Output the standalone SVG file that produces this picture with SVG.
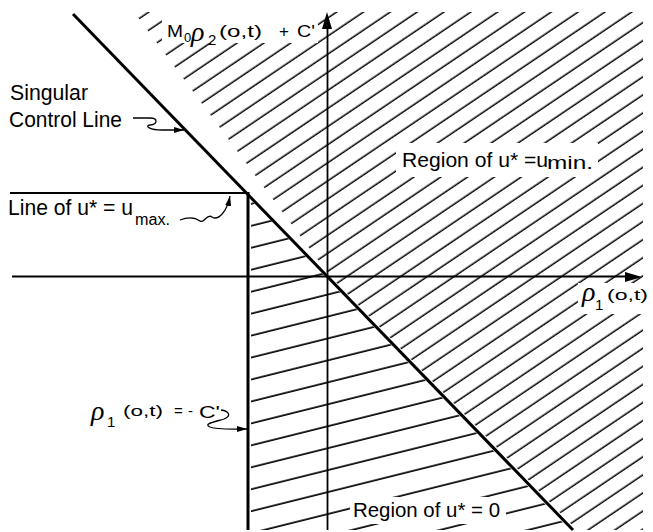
<svg xmlns="http://www.w3.org/2000/svg" width="653" height="532" viewBox="0 0 653 532">
<style>
.t{font-family:"Liberation Sans",Arial,sans-serif;fill:#000}
.g{font-family:"Liberation Serif","Times New Roman",serif;font-style:italic;fill:#000}
.ln{stroke:#000;fill:none}
.sq{stroke:#000;fill:none;stroke-width:1.3}
.wb{fill:#fff}
</style>
<defs>
<pattern id="h1" patternUnits="userSpaceOnUse" width="50" height="15" patternTransform="rotate(-34)"><line x1="-1" y1="3.3" x2="51" y2="3.3" stroke="#000" stroke-width="1.6"/></pattern>
<pattern id="h2" patternUnits="userSpaceOnUse" width="50" height="21.3" patternTransform="rotate(-14)"><line x1="-1" y1="3" x2="51" y2="3" stroke="#000" stroke-width="1.6"/></pattern>
<marker id="ah" markerWidth="10" markerHeight="8" refX="10" refY="4" orient="auto" markerUnits="userSpaceOnUse"><path d="M0,1 L10,4 L0,7 Z" fill="#000"/></marker>
</defs>
<rect width="653" height="532" fill="#fff"/>
<g id="hatch-umin">
<polygon points="134,12 643,12 643,530 577,530 330,276" fill="url(#h1)"/>
</g>
<g id="hatch-zero">
<polygon points="251,200 251,530 570,530" fill="url(#h2)"/>
</g>
<g id="label-masks">
<rect class="wb" x="162" y="12" width="156" height="31"/>
<rect class="wb" x="396" y="143" width="202" height="34"/>
<rect class="wb" x="578" y="283" width="75" height="31"/>
<rect class="wb" x="350" y="497" width="156" height="27"/>
</g>
<g id="axes">
<line class="ln" x1="12" y1="276.5" x2="628" y2="276.5" stroke-width="1.8"/>
<polygon points="642,277 625,272 625,282" fill="#000"/>
<line class="ln" x1="327.5" y1="530" x2="327.5" y2="26" stroke-width="1.8"/>
<polygon points="327,12 322,29 332,29" fill="#000"/>
</g>
<g id="singular-control-line">
<line class="ln" x1="73" y1="14" x2="573" y2="530" stroke-width="3"/>
</g>
<g id="umax-line">
<line class="ln" x1="10" y1="193" x2="249" y2="193" stroke-width="2.2"/>
<line class="ln" x1="248" y1="192" x2="248" y2="530" stroke-width="3"/>
</g>
<g id="connectors">
<path class="sq" d="M133,118 L150,118 C158,118 158,124 150,125 C144,126 150,130 162,130 L184,130" marker-end="url(#ah)"/>
<path class="sq" d="M180,220 C190,216 196,218 200,221 C204,224 207,213 212,217 C218,221 227,212 230,196" marker-end="url(#ah)"/>
<path class="sq" d="M221,410 C229,411 232,416 224,419 C214,422 203,424 210,427 C218,430 232,429 247,429" marker-end="url(#ah)"/>
</g>
<g id="label-singular">
<text class="t" x="10" y="100" font-size="22" textLength="78" lengthAdjust="spacingAndGlyphs">Singular</text>
<text class="t" x="9" y="127" font-size="22" textLength="113" lengthAdjust="spacingAndGlyphs">Control Line</text>
</g>
<g id="label-umax">
<text class="t" x="8" y="215" font-size="22" textLength="125" lengthAdjust="spacingAndGlyphs">Line of u* = u</text>
<text class="t" x="135" y="225" font-size="16" textLength="35" lengthAdjust="spacingAndGlyphs">max.</text>
</g>
<g id="label-umin">
<text class="t" x="402" y="167" font-size="21" textLength="146" lengthAdjust="spacingAndGlyphs">Region of u* =u</text>
<text class="t" x="547" y="169" font-size="19" textLength="46" lengthAdjust="spacingAndGlyphs">min.</text>
</g>
<g id="label-zero">
<text class="t" x="353" y="517" font-size="21" textLength="147" lengthAdjust="spacingAndGlyphs">Region of u* = 0</text>
</g>
<g id="label-yaxis">
<text class="t" x="167" y="37" font-size="17" textLength="16" lengthAdjust="spacingAndGlyphs">M</text>
<text class="t" x="184" y="42" font-size="13">0</text>
<text class="g" x="191" y="41" font-size="28">ρ</text>
<text class="t" x="208" y="45" font-size="15">2</text>
<text class="t" x="219" y="37" font-size="17" textLength="43" lengthAdjust="spacingAndGlyphs">(o,t)</text>
<text class="t" x="279" y="37" font-size="17">+</text>
<text class="t" x="297" y="37" font-size="17" textLength="18" lengthAdjust="spacingAndGlyphs">C'</text>
</g>
<g id="label-xaxis">
<text class="g" x="582" y="301" font-size="28">ρ</text>
<text class="t" x="595" y="310" font-size="15">1</text>
<text class="t" x="607" y="300" font-size="15" textLength="41" lengthAdjust="spacingAndGlyphs">(o,t)</text>
</g>
<g id="label-vline">
<text class="g" x="91" y="420" font-size="28">ρ</text>
<text class="t" x="107" y="427" font-size="15">1</text>
<text class="t" x="123" y="416" font-size="15" textLength="40" lengthAdjust="spacingAndGlyphs">(o,t)</text>
<text class="t" x="174" y="416" font-size="15">=</text>
<text class="t" x="188" y="416" font-size="15">-</text>
<text class="t" x="199" y="418" font-size="17" textLength="21" lengthAdjust="spacingAndGlyphs">C'</text>
</g>
</svg>
